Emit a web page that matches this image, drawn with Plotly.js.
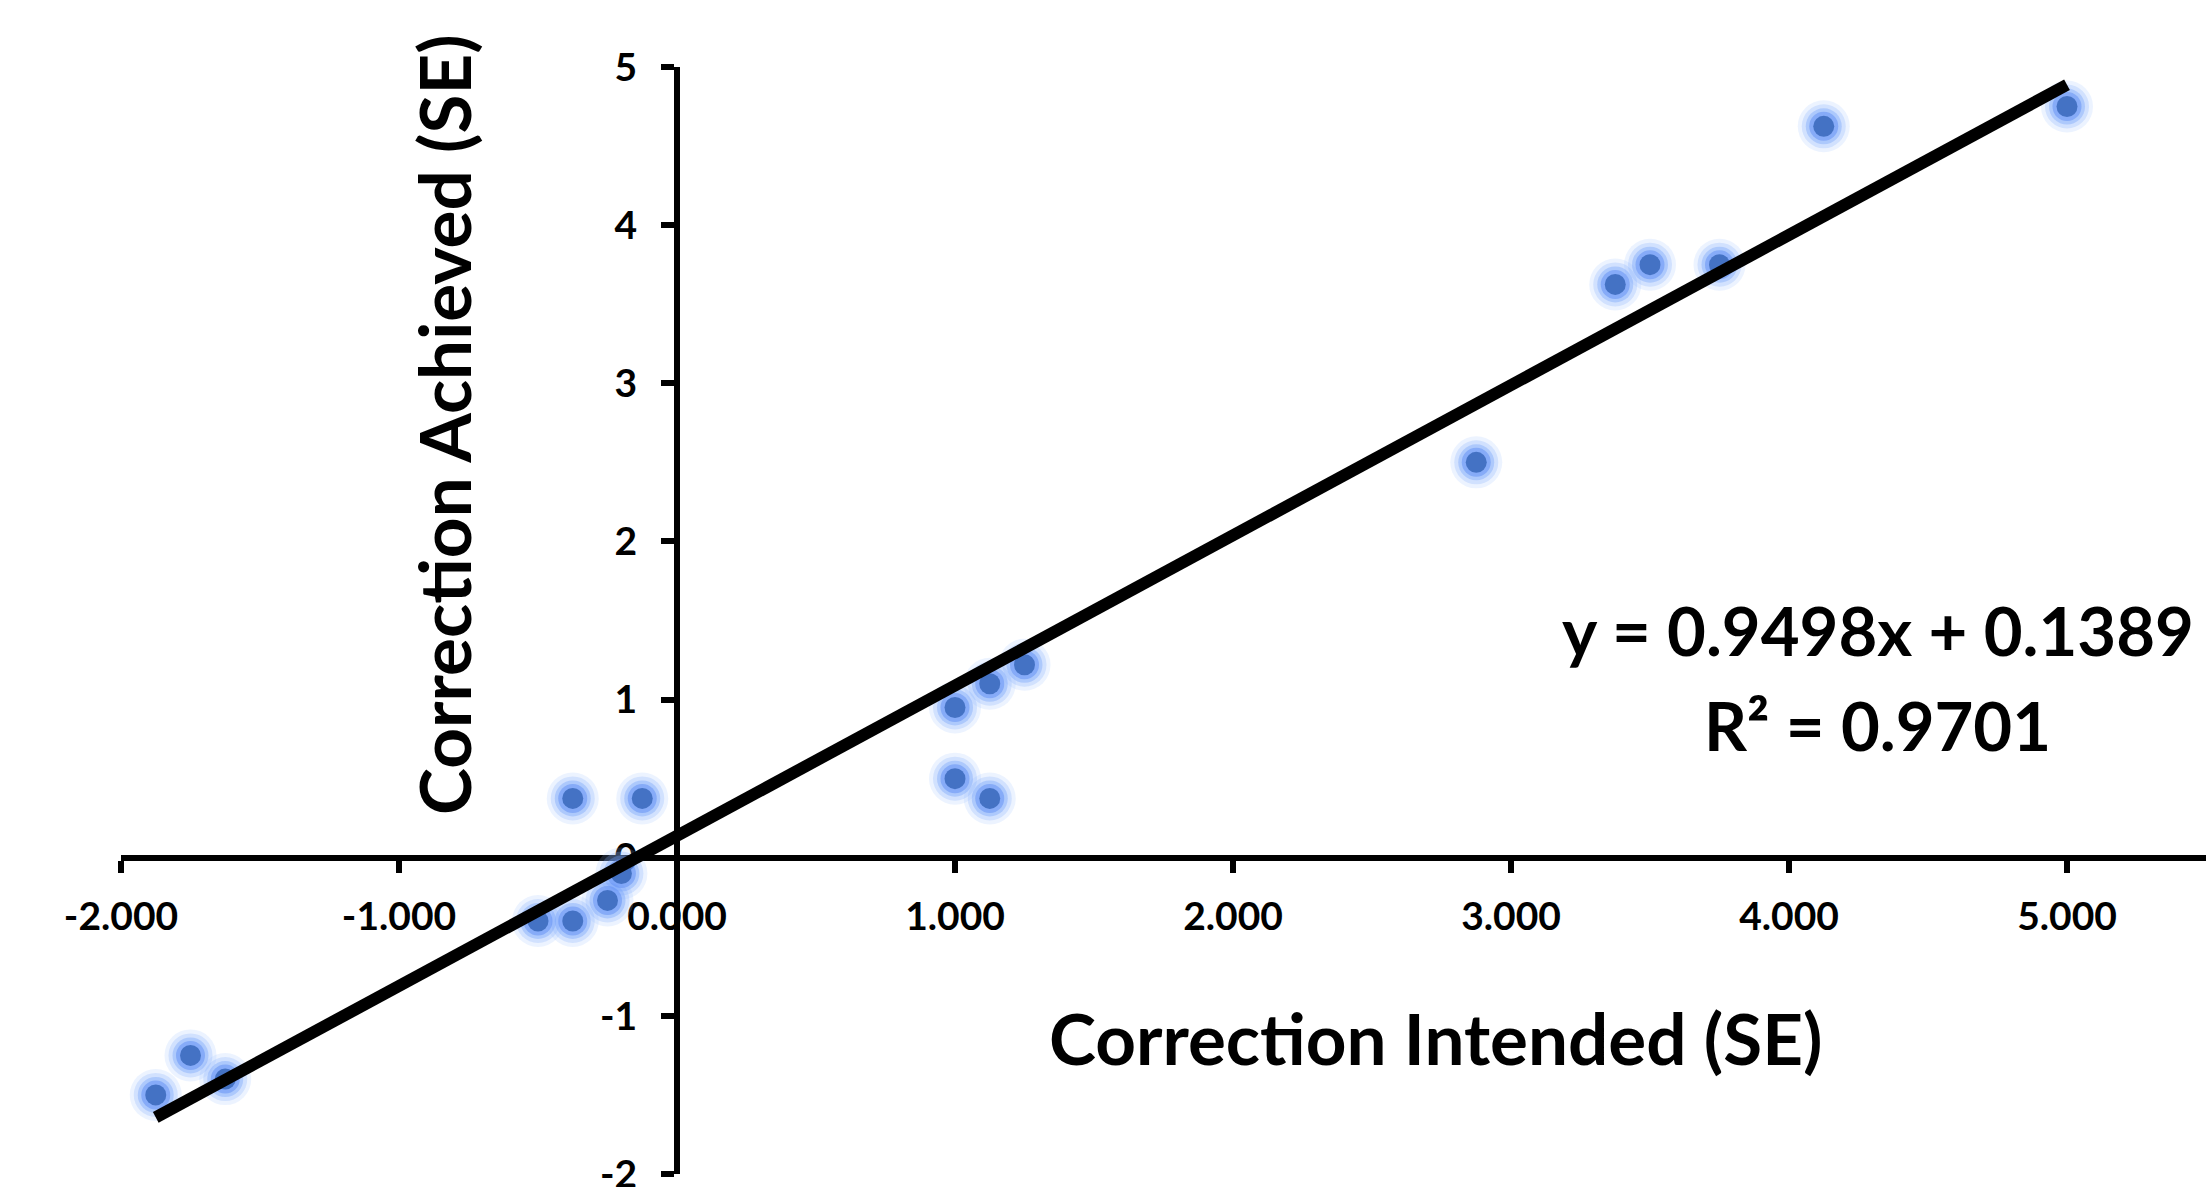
<!DOCTYPE html>
<html>
<head>
<meta charset="utf-8">
<script src="https://cdn.plot.ly/plotly-3.0.1.min.js"></script>
<style>
  html, body { margin: 0; padding: 0; background: #ffffff; }
  #chart { width: 2206px; height: 1187px; }
</style>
</head>
<body>
<div id="chart"></div>
<script>
// ---- data ----
const correctionIntended = [-1.875, -1.75, -1.625, -0.5, -0.375, -0.25, -0.2, -0.375, -0.125, 1.0, 1.125, 1.0, 1.125, 1.25, 2.875, 3.375, 3.5, 3.75, 4.125, 5.0];
const correctionAchieved = [-1.5, -1.25, -1.4, -0.4, -0.4, -0.27, -0.1, 0.375, 0.375, 0.5, 0.375, 0.95, 1.1, 1.22, 2.5, 3.625, 3.75, 3.75, 4.625, 4.75];
const trendSlope = 0.9498;
const trendIntercept = 0.1389;
const rSquared = 0.9701;
const xTickValues = [-2, -1, 0, 1, 2, 3, 4, 5];
const xTickLabels = ["-2.000", "-1.000", "0.000", "1.000", "2.000", "3.000", "4.000", "5.000"];
const yTickValues = [-2, -1, 0, 1, 2, 3, 4, 5];
const yTickLabels = ["-2", "-1", "0", "1", "2", "3", "4", "5"];
const xTitle = "Correction Intended (SE)";
const yTitle = "Correction Achieved (SE)";

// ---- build traces ----
const FONT = "Lato, Carlito, 'Liberation Sans', sans-serif";
const xMin = Math.min(...correctionIntended);
const xMax = Math.max(...correctionIntended);
const trendX = [xMin, xMax];
const trendY = trendX.map(v => trendSlope * v + trendIntercept);

const glowLayers = [
  {size: 52, color: 'rgba(150,188,255,0.18)'},
  {size: 44, color: 'rgba(130,172,253,0.26)'},
  {size: 36, color: 'rgba(112,158,250,0.36)'},
  {size: 29, color: 'rgba(96,142,244,0.5)'}
];
const traces = glowLayers.map(g => ({
  type: 'scatter', mode: 'markers',
  x: correctionIntended, y: correctionAchieved,
  marker: {size: g.size, color: g.color, line: {width: 0}},
  hoverinfo: 'skip', showlegend: false
}));
traces.push({
  type: 'scatter', mode: 'markers',
  x: correctionIntended, y: correctionAchieved,
  marker: {size: 21, color: '#4472C4', line: {width: 0}},
  showlegend: false, name: 'data'
});
traces.push({
  type: 'scatter', mode: 'lines',
  x: trendX, y: trendY,
  line: {color: '#000000', width: 12},
  showlegend: false, name: 'trend'
});

const xRange = [-2, 5.5];
const yRange = [-2, 5];

const layout = {
  width: 2206, height: 1187,
  margin: {l: 121, r: 0, t: 67, b: 13, pad: 0},
  paper_bgcolor: '#ffffff', plot_bgcolor: '#ffffff',
  showlegend: false,
  font: {family: FONT, color: '#000000'},
  xaxis: {
    range: xRange, anchor: 'free',
    position: (0 - yRange[0]) / (yRange[1] - yRange[0]),
    showgrid: false, zeroline: false,
    showline: true, linecolor: '#000000', linewidth: 6,
    ticks: 'outside', ticklen: 12, tickwidth: 6, tickcolor: '#000000',
    tickmode: 'array', tickvals: xTickValues, ticktext: xTickLabels,
    tickfont: {family: FONT, size: 39, color: '#000000', weight: 'bold'},
    ticklabelstandoff: 10,
    ticklabeloverflow: 'allow',
    layer: 'below traces'
  },
  yaxis: {
    range: yRange, anchor: 'free',
    position: (0 - xRange[0]) / (xRange[1] - xRange[0]),
    showgrid: false, zeroline: false,
    showline: true, linecolor: '#000000', linewidth: 6,
    ticks: 'outside', ticklen: 13, tickwidth: 6, tickcolor: '#000000',
    tickmode: 'array', tickvals: yTickValues, ticktext: yTickLabels,
    tickfont: {family: FONT, size: 39, color: '#000000', weight: 'bold'},
    ticklabelstandoff: 16,
    ticklabeloverflow: 'allow',
    layer: 'below traces'
  },
  annotations: [
    {xref: 'paper', yref: 'paper', x: 0.6307, y: 0.1229, xanchor: 'center', yanchor: 'middle',
     text: xTitle, showarrow: false,
     font: {family: FONT, size: 71, color: '#000000', weight: 'bold'}},
    {xref: 'paper', yref: 'paper', x: 0.1544, y: 0.6775, xanchor: 'center', yanchor: 'middle',
     text: yTitle, textangle: -90, showarrow: false,
     font: {family: FONT, size: 71, color: '#000000', weight: 'bold'}},
    {xref: 'paper', yref: 'paper', x: 0.8425, y: 0.4914, xanchor: 'center', yanchor: 'middle',
     text: 'y = ' + trendSlope.toFixed(4) + 'x + ' + trendIntercept.toFixed(4), showarrow: false,
     font: {family: FONT, size: 67, color: '#000000', weight: 'bold'}},
    {xref: 'paper', yref: 'paper', x: 0.8425, y: 0.4056, xanchor: 'center', yanchor: 'middle',
     text: 'R² = ' + rSquared.toFixed(4), showarrow: false,
     font: {family: FONT, size: 67, color: '#000000', weight: 'bold'}}
  ]
};

Plotly.newPlot('chart', traces, layout, {displayModeBar: false, staticPlot: true});
</script>
</body>
</html>
